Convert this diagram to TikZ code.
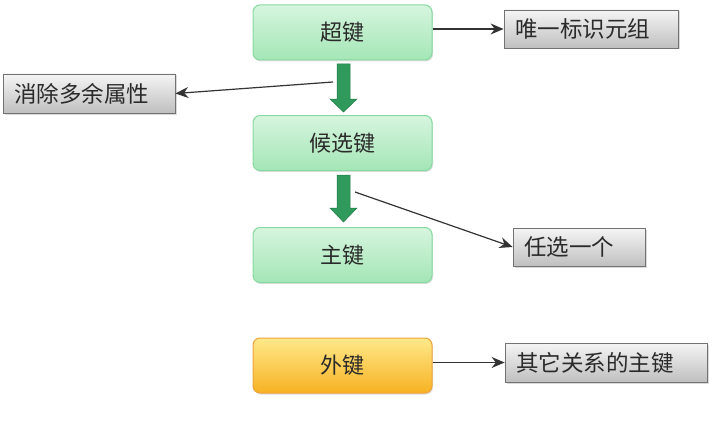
\documentclass[tikz,border=0pt]{standalone}
\usepackage{fontspec}
\setmainfont{Noto Sans CJK SC}
\usetikzlibrary{arrows.meta,shadows}
\definecolor{gborder}{HTML}{86D9A0}
\definecolor{gtop}{HTML}{D6F5DE}
\definecolor{gbot}{HTML}{A4E6B6}
\definecolor{otop}{HTML}{FFE98A}
\definecolor{obot}{HTML}{F7B223}
\definecolor{oborder}{HTML}{EFA43A}
\definecolor{bigarrow}{HTML}{2F9A5C}
\definecolor{bigarrowdark}{HTML}{237A47}
\definecolor{txt}{HTML}{2A2A2A}
\tikzset{
  keybox/.style={draw=gborder, line width=1pt, rounded corners=7pt, top color=gtop, bottom color=gbot,
    minimum width=179pt, minimum height=55pt, inner sep=0pt, font=\fontsize{22}{25}\selectfont, text=txt,
    drop shadow={shadow xshift=1pt, shadow yshift=-1.5pt, opacity=0.25}},
  fkbox/.style={keybox, draw=oborder, top color=otop, bottom color=obot},
  notebox/.style={draw=black!55, line width=0.8pt, top color=white!96!black, bottom color=black!25,
    inner sep=0pt, text=txt, font=\fontsize{22.5}{25}\selectfont, align=left,
    drop shadow={shadow xshift=1.5pt, shadow yshift=-1.5pt, opacity=0.3}},
  conn/.style={draw=black!80, line width=1.2pt, -{Stealth[length=13pt,width=11pt]}},
  fat/.style={fill=bigarrow, draw=bigarrowdark, line width=0.5pt}
}
\begin{document}
\begin{tikzpicture}[x=1pt,y=-1pt]
\useasboundingbox (0,0) rectangle (712,428);
% key boxes
\node[keybox] (super) at (342.5,32.5) {超键};
\node[keybox] (cand) at (342.5,143) {候选键};
\node[keybox] (prim) at (342.5,255) {主键};
\node[fkbox] (fk) at (342.5,365.5) {外键};
% note boxes
\node[notebox, minimum width=174pt, minimum height=38pt, text width=152pt] (uniq) at (591,29) {唯一标识元组};
\node[notebox, minimum width=172pt, minimum height=39pt, text width=150pt] (remove) at (89,93.5) {消除多余属性};
\node[notebox, minimum width=132pt, minimum height=38pt, text width=110pt] (pick) at (579,247) {任选一个};
\node[notebox, minimum width=202pt, minimum height=39pt, text width=180pt] (other) at (606,362.5) {其它关系的主键};
% big green arrows
\draw[fat] (337,64) -- (350,64) -- (350,99) -- (357,99) -- (343.5,112) -- (330,99) -- (337,99) -- cycle;
\draw[fat] (337,175) -- (350,175) -- (350,208) -- (357,208) -- (343.5,222) -- (330,208) -- (337,208) -- cycle;
\coordinate (a1) at (333,82);
\coordinate (a2) at (355,192);
% connectors
\draw[conn] (super.east |- uniq.west) -- (uniq.west);
\draw[conn] (a1) -- (remove.east);
\draw[conn] (a2) -- (pick.west);
\draw[conn] (fk.east |- other.west) -- (other.west);
\end{tikzpicture}
\end{document}
